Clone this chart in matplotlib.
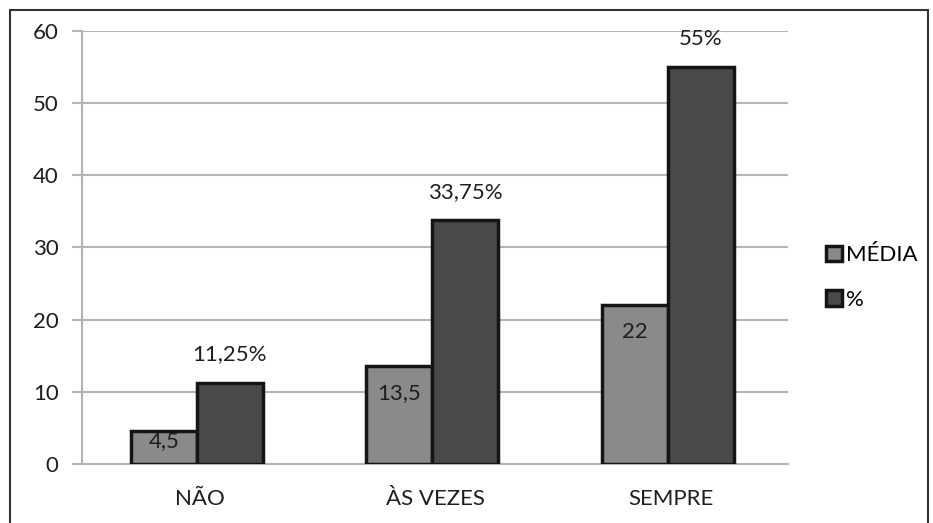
import matplotlib.pyplot as plt
from matplotlib.patches import Rectangle
import numpy as np

plt.rcParams['font.family'] = ['Lato', 'DejaVu Sans']

categories = ['NÃO', 'ÀS VEZES', 'SEMPRE']
media = [4.5, 13.5, 22]
pct = [11.25, 33.75, 55]
media_labels = ['4,5', '13,5', '22']
pct_labels = ['11,25%', '33,75%', '55%']

fig = plt.figure(figsize=(9.33, 5.23), dpi=100)
ax = fig.add_axes([0.088, 0.113, 0.757, 0.828])

# outer frame like the excel chart area (bottom edge is cut off)
fig.patches.append(Rectangle((10 / 933, -0.05), 918 / 933, 1 - 10 / 523 + 0.05,
                             transform=fig.transFigure, fill=False,
                             edgecolor='#333333', lw=1.5))

x = np.arange(len(categories))
w = 0.28
b1 = ax.bar(x - w / 2 - 0.012, media, w, color='#8a8a8a', edgecolor='#151515', lw=2.5,
            label='MÉDIA', zorder=3)
b2 = ax.bar(x + w / 2 - 0.012, pct, w, color='#4a4a4a', edgecolor='#151515', lw=2.5,
            label='%', zorder=3)

for rect, lab in zip(b1, media_labels):
    h = rect.get_height()
    ax.text(rect.get_x() + rect.get_width() / 2, max(h - 3.7, h * 0.7), lab,
            ha='center', va='center', fontsize=16, color='#1e1e1e', zorder=4)
for rect, lab in zip(b2, pct_labels):
    ax.text(rect.get_x() + rect.get_width() / 2, rect.get_height() + 3.9, lab,
            ha='center', va='center', fontsize=16, color='#1e1e1e', zorder=4)

ax.set_xlim(-0.5, 2.5)
ax.set_ylim(0, 60)
ax.set_yticks(range(0, 61, 10))
ax.set_xticks(x)
ax.set_xticklabels(categories)
ax.grid(axis='y', color='#b4b4b4', lw=1.5, zorder=0)
for s in ['top', 'right']:
    ax.spines[s].set_visible(False)
ax.spines['left'].set_color('#b4b4b4')
ax.spines['bottom'].set_color('#b4b4b4')
ax.spines['left'].set_linewidth(1.5)
ax.spines['bottom'].set_linewidth(1.5)
ax.tick_params(axis='y', length=7, width=1.5, color='#b4b4b4', labelsize=16,
               labelcolor='#1e1e1e', pad=10)
ax.tick_params(axis='x', length=0, labelsize=16, labelcolor='#1e1e1e', pad=18)

ax.legend(loc='center left', bbox_to_anchor=(1.025, 0.43), frameon=False,
          fontsize=16, handlelength=0.7, handleheight=0.7, handletextpad=0.2,
          labelspacing=1.1)

fig.savefig('out.png', dpi=100)
